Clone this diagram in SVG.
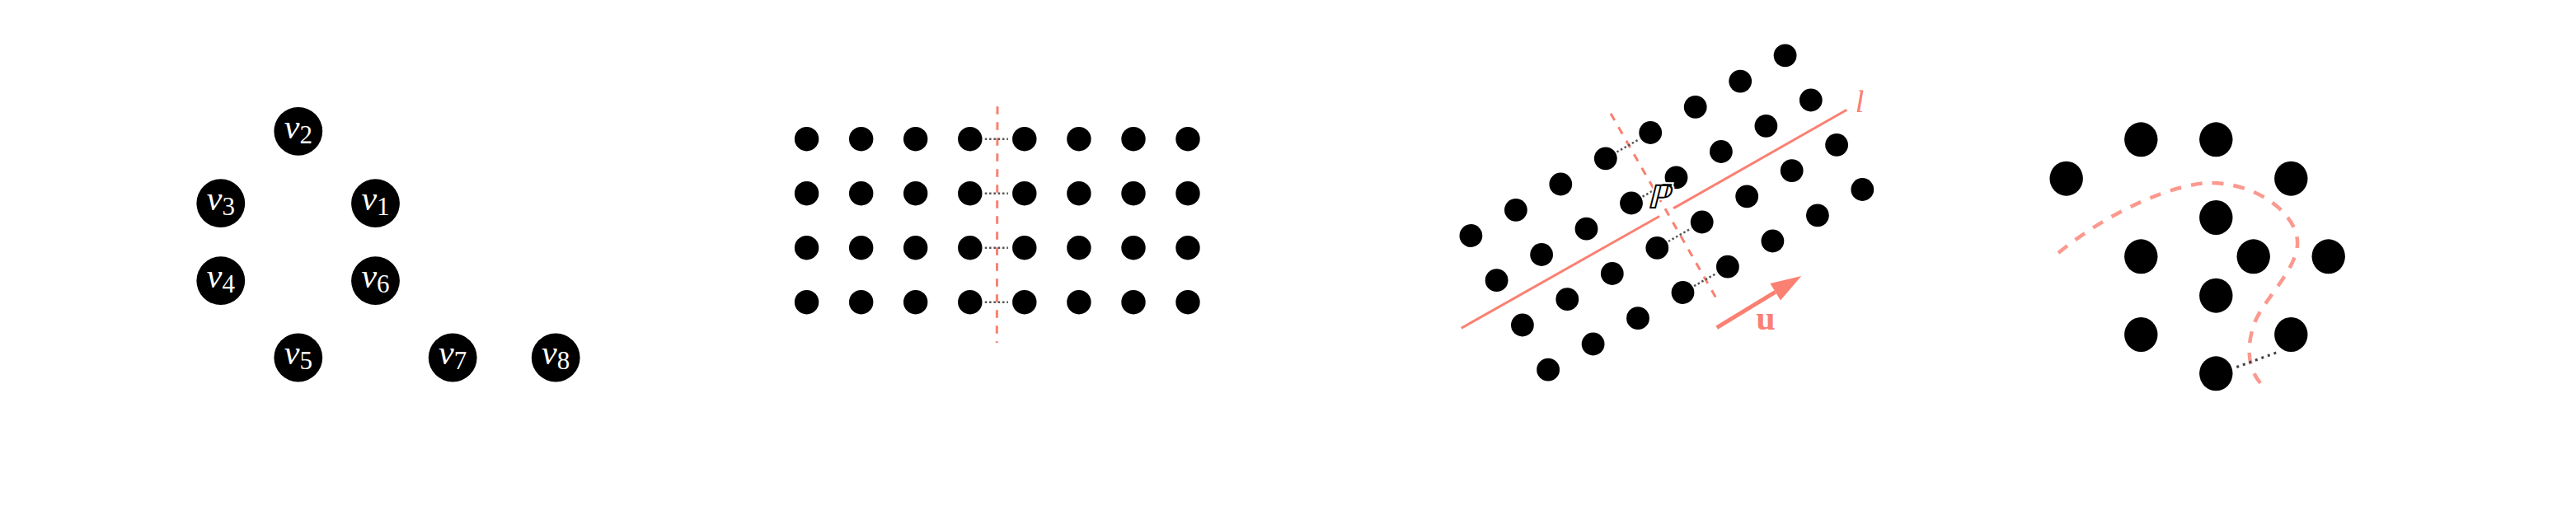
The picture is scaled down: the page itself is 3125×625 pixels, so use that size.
<svg xmlns="http://www.w3.org/2000/svg" width="3125" height="625" viewBox="0 0 3125 625">
<style>
.dot{fill:#000}
.lbl{fill:#fff;font-family:"Liberation Serif","DejaVu Serif",serif;font-size:42px;font-style:italic}
.sub{font-style:normal;font-size:31px}
.red{stroke:#FA8072;fill:none;stroke-width:3}
.dash{stroke-dasharray:9.5 9.5}
.dotted{stroke:#555;stroke-width:2.5;stroke-dasharray:2.5 2.8;fill:none}
.salmon-t{fill:#FA8072}
</style>
<defs>
<marker id="ah" markerUnits="userSpaceOnUse" markerWidth="38" markerHeight="26" refX="0" refY="12" orient="auto" overflow="visible">
<path d="M0,0 L37,12 L0,24 z" fill="#FA8072"/>
</marker>
</defs>
<rect width="3125" height="625" fill="#fff"/>

<!-- Panel 1 -->
<g id="v2"><circle class="dot" cx="361.8" cy="159.3" r="29.4"/><text class="lbl" x="361.8" y="167.5" text-anchor="middle">v<tspan class="sub" dy="6">2</tspan></text></g>
<g id="v3"><circle class="dot" cx="267.8" cy="246.7" r="29.4"/><text class="lbl" x="267.8" y="254.9" text-anchor="middle">v<tspan class="sub" dy="6">3</tspan></text></g>
<g id="v1"><circle class="dot" cx="455.5" cy="246.7" r="29.4"/><text class="lbl" x="455.5" y="254.9" text-anchor="middle">v<tspan class="sub" dy="6">1</tspan></text></g>
<g id="v4"><circle class="dot" cx="267.8" cy="340.7" r="29.4"/><text class="lbl" x="267.8" y="348.9" text-anchor="middle">v<tspan class="sub" dy="6">4</tspan></text></g>
<g id="v6"><circle class="dot" cx="455.5" cy="340.7" r="29.4"/><text class="lbl" x="455.5" y="348.9" text-anchor="middle">v<tspan class="sub" dy="6">6</tspan></text></g>
<g id="v5"><circle class="dot" cx="361.8" cy="434" r="29.4"/><text class="lbl" x="361.8" y="442.2" text-anchor="middle">v<tspan class="sub" dy="6">5</tspan></text></g>
<g id="v7"><circle class="dot" cx="549.2" cy="434" r="29.4"/><text class="lbl" x="549.2" y="442.2" text-anchor="middle">v<tspan class="sub" dy="6">7</tspan></text></g>
<g id="v8"><circle class="dot" cx="674.2" cy="434" r="29.4"/><text class="lbl" x="674.2" y="442.2" text-anchor="middle">v<tspan class="sub" dy="6">8</tspan></text></g>

<!-- Panel 2 -->
<g id="grid-connectors">
<line class="red dash" x1="1210" y1="129.3" x2="1209.3" y2="416"/>
<line class="dotted" x1="1194.8" y1="168.7" x2="1223" y2="168.7"/>
<line class="dotted" x1="1194.8" y1="234.7" x2="1223" y2="234.7"/>
<line class="dotted" x1="1194.8" y1="300.7" x2="1223" y2="300.7"/>
<line class="dotted" x1="1194.8" y1="366.7" x2="1223" y2="366.7"/>
</g>
<g id="grid">
<g id="g-0-0"><circle class="dot" cx="978.6" cy="168.7" r="14.7"/></g>
<g id="g-0-1"><circle class="dot" cx="1044.7" cy="168.7" r="14.7"/></g>
<g id="g-0-2"><circle class="dot" cx="1110.7" cy="168.7" r="14.7"/></g>
<g id="g-0-3"><circle class="dot" cx="1176.8" cy="168.7" r="14.7"/></g>
<g id="g-0-4"><circle class="dot" cx="1242.8" cy="168.7" r="14.7"/></g>
<g id="g-0-5"><circle class="dot" cx="1308.9" cy="168.7" r="14.7"/></g>
<g id="g-0-6"><circle class="dot" cx="1375" cy="168.7" r="14.7"/></g>
<g id="g-0-7"><circle class="dot" cx="1441" cy="168.7" r="14.7"/></g>
<g id="g-1-0"><circle class="dot" cx="978.6" cy="234.7" r="14.7"/></g>
<g id="g-1-1"><circle class="dot" cx="1044.7" cy="234.7" r="14.7"/></g>
<g id="g-1-2"><circle class="dot" cx="1110.7" cy="234.7" r="14.7"/></g>
<g id="g-1-3"><circle class="dot" cx="1176.8" cy="234.7" r="14.7"/></g>
<g id="g-1-4"><circle class="dot" cx="1242.8" cy="234.7" r="14.7"/></g>
<g id="g-1-5"><circle class="dot" cx="1308.9" cy="234.7" r="14.7"/></g>
<g id="g-1-6"><circle class="dot" cx="1375" cy="234.7" r="14.7"/></g>
<g id="g-1-7"><circle class="dot" cx="1441" cy="234.7" r="14.7"/></g>
<g id="g-2-0"><circle class="dot" cx="978.6" cy="300.7" r="14.7"/></g>
<g id="g-2-1"><circle class="dot" cx="1044.7" cy="300.7" r="14.7"/></g>
<g id="g-2-2"><circle class="dot" cx="1110.7" cy="300.7" r="14.7"/></g>
<g id="g-2-3"><circle class="dot" cx="1176.8" cy="300.7" r="14.7"/></g>
<g id="g-2-4"><circle class="dot" cx="1242.8" cy="300.7" r="14.7"/></g>
<g id="g-2-5"><circle class="dot" cx="1308.9" cy="300.7" r="14.7"/></g>
<g id="g-2-6"><circle class="dot" cx="1375" cy="300.7" r="14.7"/></g>
<g id="g-2-7"><circle class="dot" cx="1441" cy="300.7" r="14.7"/></g>
<g id="g-3-0"><circle class="dot" cx="978.6" cy="366.7" r="14.7"/></g>
<g id="g-3-1"><circle class="dot" cx="1044.7" cy="366.7" r="14.7"/></g>
<g id="g-3-2"><circle class="dot" cx="1110.7" cy="366.7" r="14.7"/></g>
<g id="g-3-3"><circle class="dot" cx="1176.8" cy="366.7" r="14.7"/></g>
<g id="g-3-4"><circle class="dot" cx="1242.8" cy="366.7" r="14.7"/></g>
<g id="g-3-5"><circle class="dot" cx="1308.9" cy="366.7" r="14.7"/></g>
<g id="g-3-6"><circle class="dot" cx="1375" cy="366.7" r="14.7"/></g>
<g id="g-3-7"><circle class="dot" cx="1441" cy="366.7" r="14.7"/></g>
</g>

<!-- Panel 3 -->
<g id="rot-connectors">
<line class="red" x1="1772.7" y1="398.3" x2="2013" y2="262.5"/>
<line class="red" x1="2030" y1="252.8" x2="2240.4" y2="133.3"/>
<line class="red dash" x1="1954" y1="137.7" x2="2085" y2="367"/>
<line class="dotted" x1="1961.4" y1="184.5" x2="1989.2" y2="168.6"/>
<line class="dotted" x1="1992.6" y1="238.7" x2="2020.4" y2="222.8"/>
<line class="dotted" x1="2023.9" y1="293" x2="2051.7" y2="277.1"/>
<line class="dotted" x1="2055.1" y1="347.2" x2="2082.9" y2="331.3"/>
<line x1="2082.7" y1="397.7" x2="2153.7" y2="354.3" stroke="#FA8072" stroke-width="5" marker-end="url(#ah)"/>
</g>
<g id="rot">
<g id="r-0-0"><circle class="dot" cx="1784.4" cy="286" r="13.9"/></g>
<g id="r-0-1"><circle class="dot" cx="1838.9" cy="254.8" r="13.9"/></g>
<g id="r-0-2"><circle class="dot" cx="1893.3" cy="223.5" r="13.9"/></g>
<g id="r-0-3"><circle class="dot" cx="1947.8" cy="192.3" r="13.9"/></g>
<g id="r-0-4"><circle class="dot" cx="2002.2" cy="161" r="13.9"/></g>
<g id="r-0-5"><circle class="dot" cx="2056.7" cy="129.8" r="13.9"/></g>
<g id="r-0-6"><circle class="dot" cx="2111.2" cy="98.6" r="13.9"/></g>
<g id="r-0-7"><circle class="dot" cx="2165.6" cy="67.3" r="13.9"/></g>
<g id="r-1-0"><circle class="dot" cx="1815.6" cy="340.2" r="13.9"/></g>
<g id="r-1-1"><circle class="dot" cx="1870.1" cy="309" r="13.9"/></g>
<g id="r-1-2"><circle class="dot" cx="1924.5" cy="277.7" r="13.9"/></g>
<g id="r-1-3"><circle class="dot" cx="1979" cy="246.5" r="13.9"/></g>
<g id="r-1-4"><circle class="dot" cx="2033.5" cy="215.3" r="13.9"/></g>
<g id="r-1-5"><circle class="dot" cx="2087.9" cy="184" r="13.9"/></g>
<g id="r-1-6"><circle class="dot" cx="2142.4" cy="152.8" r="13.9"/></g>
<g id="r-1-7"><circle class="dot" cx="2196.8" cy="121.5" r="13.9"/></g>
<g id="r-2-0"><circle class="dot" cx="1846.9" cy="394.5" r="13.9"/></g>
<g id="r-2-1"><circle class="dot" cx="1901.3" cy="363.2" r="13.9"/></g>
<g id="r-2-2"><circle class="dot" cx="1955.8" cy="332" r="13.9"/></g>
<g id="r-2-3"><circle class="dot" cx="2010.3" cy="300.8" r="13.9"/></g>
<g id="r-2-4"><circle class="dot" cx="2064.7" cy="269.5" r="13.9"/></g>
<g id="r-2-5"><circle class="dot" cx="2119.2" cy="238.3" r="13.9"/></g>
<g id="r-2-6"><circle class="dot" cx="2173.7" cy="207.1" r="13.9"/></g>
<g id="r-2-7"><circle class="dot" cx="2228.1" cy="175.8" r="13.9"/></g>
<g id="r-3-0"><circle class="dot" cx="1878.1" cy="448.7" r="13.9"/></g>
<g id="r-3-1"><circle class="dot" cx="1932.6" cy="417.5" r="13.9"/></g>
<g id="r-3-2"><circle class="dot" cx="1987" cy="386.2" r="13.9"/></g>
<g id="r-3-3"><circle class="dot" cx="2041.5" cy="355" r="13.9"/></g>
<g id="r-3-4"><circle class="dot" cx="2095.9" cy="323.7" r="13.9"/></g>
<g id="r-3-5"><circle class="dot" cx="2150.4" cy="292.5" r="13.9"/></g>
<g id="r-3-6"><circle class="dot" cx="2204.9" cy="261.3" r="13.9"/></g>
<g id="r-3-7"><circle class="dot" cx="2259.3" cy="230" r="13.9"/></g>
</g>
<g id="labels3">
<text transform="translate(2011,253) skewX(-14)" x="0" y="0" text-anchor="middle" font-family="DejaVu Sans, DejaVu Serif, sans-serif" font-size="40" fill="#000" stroke="#fff" stroke-width="4" paint-order="stroke">ℙ̄</text>
<text x="2256" y="136" text-anchor="middle" font-family="Liberation Serif, serif" font-style="italic" font-size="38" class="salmon-t">l</text>
<text x="2142" y="400" text-anchor="middle" font-family="Liberation Serif, serif" font-weight="bold" font-size="42" class="salmon-t">u</text>
</g>

<!-- Panel 4 -->
<g id="cluster-connectors">
<path d="M2497,307 C2560,255 2640,222 2682,222 C2740,222 2790,262 2787,298 C2784,330 2745,365 2735,392 C2725,420 2725,450 2748,471" fill="none" stroke="#FA8072" stroke-opacity="0.8" stroke-width="4.5" stroke-dasharray="14 12"/>
<line x1="2713.3" y1="445.5" x2="2764" y2="427" stroke="#444" stroke-width="3" stroke-dasharray="3 5"/>
</g>
<g id="cluster">
<g id="c-a"><ellipse class="dot" cx="2597.3" cy="169.3" rx="20.2" ry="21"/></g>
<g id="c-b"><ellipse class="dot" cx="2688.3" cy="169.3" rx="20.2" ry="21"/></g>
<g id="c-c"><ellipse class="dot" cx="2506.7" cy="216.7" rx="20.2" ry="21"/></g>
<g id="c-d"><ellipse class="dot" cx="2779.3" cy="216.7" rx="20.2" ry="21"/></g>
<g id="c-e"><ellipse class="dot" cx="2688.3" cy="264" rx="20.2" ry="21"/></g>
<g id="c-f"><ellipse class="dot" cx="2597.3" cy="311.3" rx="20.2" ry="21"/></g>
<g id="c-g"><ellipse class="dot" cx="2733.7" cy="311.3" rx="20.2" ry="21"/></g>
<g id="c-h"><ellipse class="dot" cx="2824.7" cy="311.3" rx="20.2" ry="21"/></g>
<g id="c-i"><ellipse class="dot" cx="2688.3" cy="358.7" rx="20.2" ry="21"/></g>
<g id="c-j"><ellipse class="dot" cx="2597.3" cy="406" rx="20.2" ry="21"/></g>
<g id="c-k"><ellipse class="dot" cx="2779.3" cy="406" rx="20.2" ry="21"/></g>
<g id="c-l"><ellipse class="dot" cx="2688.3" cy="453.3" rx="20.2" ry="21"/></g>
</g>
</svg>
